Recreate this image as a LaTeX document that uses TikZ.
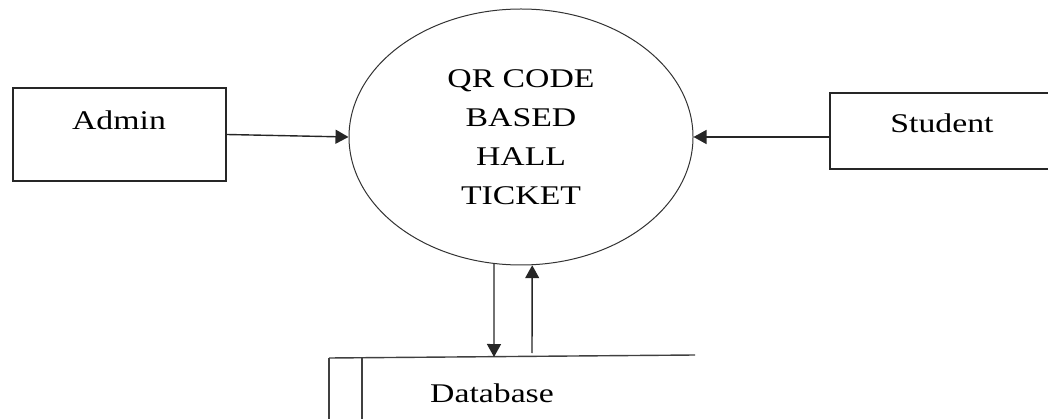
\documentclass[tikz,border=0pt]{standalone}
\usepackage{fontspec}
\setmainfont{Liberation Serif}[FakeStretch=1.25]
\usetikzlibrary{arrows.meta,shapes.geometric}
\tikzset{
  lbl/.style={font=\fontsize{27}{39}\selectfont, inner sep=0pt, text=black},
  entity/.style={draw=black!85, line width=1.4pt, rectangle, inner sep=0pt},
  proc/.style={draw=black!80, line width=1pt, ellipse, inner sep=0pt, minimum width=344pt, minimum height=256pt, align=center, font=\fontsize{27}{39}\selectfont, text=black},
  arr/.style={draw=black!85, line width=1.4pt, -{Triangle[length=13pt,width=14pt]}},
  store/.style={draw=black!75, line width=1.4pt}
}
\begin{document}
\begin{tikzpicture}[x=1pt,y=-1pt]
\useasboundingbox (0,0) rectangle (1048,419);
\clip (0,0) rectangle (1048,419);
% entities
\node[entity, minimum width=213pt, minimum height=93pt] (admin) at (119.5,134.5) {};
\node[lbl, anchor=base] (admintxt) at (119,130) {Admin};
\node[entity, minimum width=240pt, minimum height=76pt] (student) at (950,131) {};
\node[lbl, anchor=base] (studenttxt) at (942,133) {Student};
% process
\node[proc] (qr) at (521,137) {QR CODE\\BASED\\HALL\\TICKET};
% data store
\coordinate (dbl) at (329,358);
\coordinate (dbr) at (695,355);
\coordinate (dbi) at (362,358);
\draw[store] (dbl) -- (dbr);
\draw[store] (dbl) -- (329,430);
\draw[store] (dbi) -- (362,430);
\node[lbl, anchor=base] (db) at (492,402) {Database};
% flows
\draw[arr] (admin.east) -- (qr.west);
\draw[arr] (student.west |- qr.east) -- (qr.east);
\coordinate (downend) at (494,357);
\coordinate (upstart) at (532,353);
\draw[arr] (qr.258) -- (downend);
\draw[arr] (upstart) -- (qr.275);
\end{tikzpicture}
\end{document}
